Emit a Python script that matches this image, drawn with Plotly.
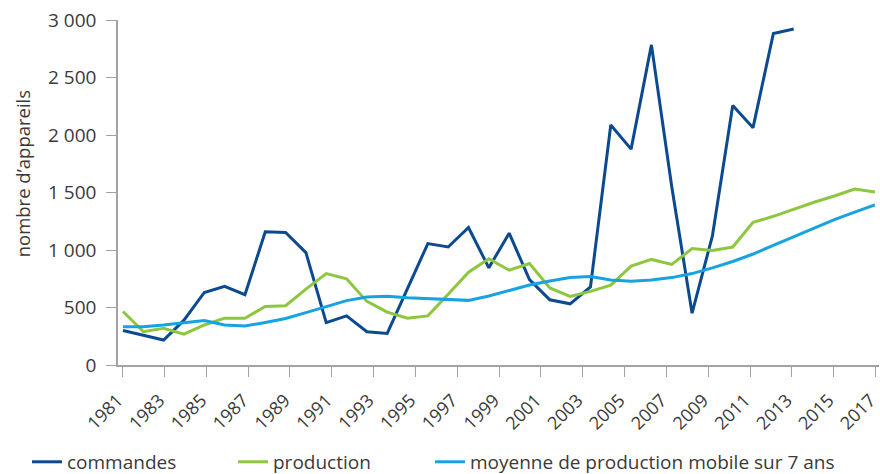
import plotly.graph_objects as go

# ---- data ----
years = list(range(1981, 2019))          # data points of each series (one per year)
commandes = [300, 260, 217, 390, 631, 684, 611, 1158, 1152, 977,
             368, 427, 289, 275, 665, 1056, 1026, 1196, 845, 1146,
             743, 567, 532, 679, 2087, 1877, 2784, 1550, 451, 1123,
             2257, 2064, 2883, 2921]
production = [465, 290, 319, 269, 348, 407, 407, 509, 515, 660,
              795, 749, 553, 460, 407, 427, 615, 807, 924, 824,
              883, 670, 596, 640, 695, 860, 918, 874, 1012, 995,
              1026, 1240, 1293, 1357, 1415, 1470, 1530, 1505]
moyenne = [333, 333, 348, 368, 386, 348, 339, 370, 405, 455,
           510, 560, 592, 597, 584, 577, 570, 562, 600, 650,
           695, 730, 760, 770, 740, 728, 740, 760, 795, 845,
           900, 965, 1040, 1120, 1190, 1265, 1330, 1392]
tick_years = list(range(1981, 2018, 2))   # labels shown on the axis
y_ticks = [0, 500, 1000, 1500, 2000, 2500, 3000]

series_names = ["commandes", "production", "moyenne de production mobile sur 7 ans"]
colors = ["#0c4a90", "#8dc63f", "#17a3e2"]
legend_ids = ["legend", "legend2", "legend3"]
legend_x = [-0.1196, 0.1511, 0.41]

FONT = "Open Sans"
TXT = "#3a3a3a"
AX = "#a3a3a3"

fig = go.Figure()
for name, vals, col, lid in zip(series_names, [commandes, production, moyenne], colors, legend_ids):
    fig.add_trace(go.Scatter(x=years[:len(vals)], y=vals, mode="lines", name=name,
                             line=dict(color=col, width=3), xaxis="x", yaxis="y",
                             legend=lid))
# empty trace so that the labelled year axis is drawn
fig.add_trace(go.Scatter(x=[], y=[], xaxis="x2", yaxis="y", showlegend=False,
                         hoverinfo="skip"))

leg_common = dict(orientation="h", xanchor="left", y=-0.281, yanchor="middle",
                  font=dict(size=19, color=TXT), bgcolor="rgba(0,0,0,0)", itemwidth=30)
layout_legends = {lid: dict(leg_common, x=lx) for lid, lx in zip(legend_ids, legend_x)}

fig.update_layout(
    width=880, height=474,
    margin=dict(l=118, r=1, t=20, b=109, autoexpand=False),
    paper_bgcolor="white", plot_bgcolor="white",
    separators=", ",
    font=dict(family=FONT, color=TXT, size=18),
    showlegend=True,
    xaxis=dict(range=[1980.754, 2018.197], visible=False, showgrid=False, zeroline=False),
    xaxis2=dict(overlaying="x", anchor="y", side="bottom",
                range=[1980.775, 2017.167],
                tickmode="array", tickvals=tick_years, ticktext=[str(t) for t in tick_years],
                tickangle=-45, ticks="outside", ticklen=10, tickcolor=AX, tickwidth=1.2,
                showline=True, linecolor=AX, linewidth=1.5, showgrid=False, zeroline=False,
                tickfont=dict(size=18, color=TXT), ticklabelstandoff=6, ticklabelshift=-5,
                ticklabeloverflow="allow", automargin=False),
    yaxis=dict(range=[0, 3000], tickmode="array", tickvals=y_ticks, tickformat=",d",
               ticks="outside", ticklen=10, tickcolor=AX, tickwidth=1.2,
               showline=True, linecolor=AX, linewidth=1.5, showgrid=False, zeroline=False,
               tickfont=dict(size=19, color=TXT), ticklabelstandoff=6, automargin=False),
    annotations=[dict(text="nombre d’appareils", textangle=-90, xref="paper", yref="paper",
                      x=-0.126, y=0.553, xanchor="center", yanchor="middle", showarrow=False,
                      font=dict(size=18.5, color=TXT))],
    **layout_legends,
)

fig.write_html("out.html", config={"displayModeBar": False},
               post_script="document.body.style.margin='0';")
